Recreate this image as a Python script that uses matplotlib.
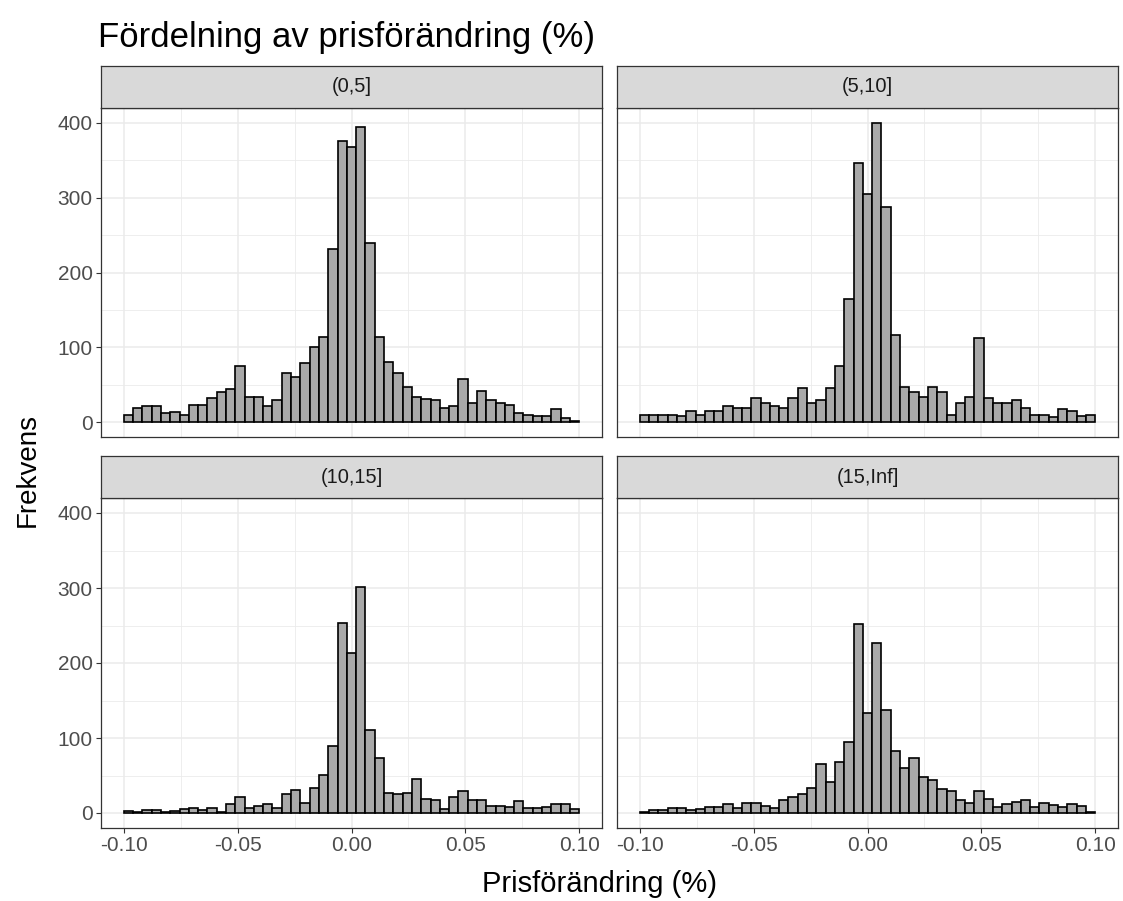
import numpy as np
import matplotlib
matplotlib.use("Agg")
import matplotlib.pyplot as plt
from matplotlib.ticker import MultipleLocator

plt.rcParams['font.family'] = ['Liberation Sans', 'DejaVu Sans']

# 49 bins from -0.10 to 0.10, counts
bin_edges = np.linspace(-0.1, 0.1, 50)

panel_labels = ['(0,5]', '(5,10]', '(10,15]', '(15,Inf]']

counts_0_5 = [10, 19, 22, 22, 12, 13, 10, 23, 23, 32,
              40, 44, 75, 34, 33, 21, 29, 66, 60, 79,
              101, 114, 232, 376, 368, 394, 240, 114, 80, 66,
              47, 34, 31, 29, 19, 21, 58, 26, 41, 30,
              25, 23, 12, 10, 8, 8, 18, 5, 2]
counts_5_10 = [10, 10, 10, 10, 8, 15, 10, 15, 15, 21,
               19, 19, 32, 26, 22, 19, 32, 45, 26, 29,
               45, 75, 165, 346, 305, 400, 288, 116, 47, 40,
               34, 47, 40, 10, 26, 34, 113, 32, 26, 26,
               29, 19, 10, 10, 7, 18, 15, 8, 10]
counts_10_15 = [3, 2, 4, 4, 1, 3, 6, 7, 4, 7,
                2, 12, 21, 7, 9, 12, 7, 26, 31, 14,
                34, 51, 90, 254, 214, 302, 111, 74, 27, 26,
                27, 46, 19, 18, 5, 21, 29, 18, 18, 9,
                10, 8, 16, 7, 7, 8, 12, 12, 5]
counts_15_inf = [1, 4, 4, 7, 7, 4, 5, 8, 8, 12,
                 7, 14, 14, 10, 7, 17, 22, 26, 33, 65,
                 42, 68, 95, 252, 134, 227, 137, 83, 60, 73,
                 48, 44, 32, 29, 17, 14, 29, 19, 8, 12,
                 15, 17, 8, 13, 11, 8, 12, 9, 2]
all_counts = [counts_0_5, counts_5_10, counts_10_15, counts_15_inf]

x_ticks = [-0.10, -0.05, 0.00, 0.05, 0.10]
x_tick_labels = ['-0.10', '-0.05', '0.00', '0.05', '0.10']
y_ticks = [0, 100, 200, 300, 400]

W, H = 1123, 901
fig = plt.figure(figsize=(W / 100, H / 100), dpi=100)
fig.patch.set_facecolor('white')

def box(x0, y0, x1, y1):
    # pixel box (top-left origin) -> figure fraction rect
    return [x0 / W, 1 - y1 / H, (x1 - x0) / W, (y1 - y0) / H]

cols = [(101, 602), (617, 1118)]
rows = [(66, 108, 437), (456, 498, 828)]

grey20 = '#333333'
grey30 = '#4D4D4D'
grey92 = '#EBEBEB'

for i, (lab, counts) in enumerate(zip(panel_labels, all_counts)):
    r, c = divmod(i, 2)
    x0, x1 = cols[c]
    s0, p0, p1 = rows[r]

    ax = fig.add_axes(box(x0, p0, x1, p1))
    ax.bar(bin_edges[:-1], counts, width=np.diff(bin_edges), align='edge',
           color='#A9A9A9', edgecolor='black', linewidth=1.2, zorder=3)
    ax.set_xlim(-0.11, 0.11)
    ax.set_ylim(-20, 420)
    ax.xaxis.set_major_locator(MultipleLocator(0.05))
    ax.xaxis.set_minor_locator(MultipleLocator(0.025))
    ax.yaxis.set_major_locator(MultipleLocator(100))
    ax.yaxis.set_minor_locator(MultipleLocator(50))
    ax.grid(which='major', color=grey92, linewidth=1.1, zorder=0)
    ax.grid(which='minor', color=grey92, linewidth=0.6, zorder=0)
    ax.set_axisbelow(True)
    for sp in ax.spines.values():
        sp.set_color(grey20)
        sp.set_linewidth(0.9)
    ax.tick_params(which='minor', length=0)
    ax.tick_params(which='major', length=3.5, width=0.8, color=grey20,
                   labelcolor=grey30, labelsize=15, pad=2.5)
    ax.set_xticks(x_ticks)
    ax.set_yticks(y_ticks)
    if r == 1:
        ax.set_xticklabels(x_tick_labels)
    else:
        ax.tick_params(axis='x', length=0, labelbottom=False)
    if c == 1:
        ax.tick_params(axis='y', length=0, labelleft=False)

    sax = fig.add_axes(box(x0, s0, x1, p0))
    sax.set_facecolor('#D9D9D9')
    sax.set_xticks([])
    sax.set_yticks([])
    for sp in sax.spines.values():
        sp.set_color(grey20)
        sp.set_linewidth(0.9)
    sax.text(0.5, 0.5, lab, ha='center', va='center', fontsize=14.5,
             color='#1A1A1A', transform=sax.transAxes)

fig.text(98 / W, 1 - 37 / H, 'Fördelning av prisförändring (%)',
         ha='left', va='center', fontsize=25, color='black')
fig.text(600 / W, 1 - 884 / H, 'Prisförändring (%)', ha='center',
         va='center', fontsize=21, color='black')
fig.text(28 / W, 1 - 470 / H, 'Frekvens', ha='center', va='center',
         rotation=90, fontsize=20, color='black')

fig.savefig('out.png', dpi=100)
